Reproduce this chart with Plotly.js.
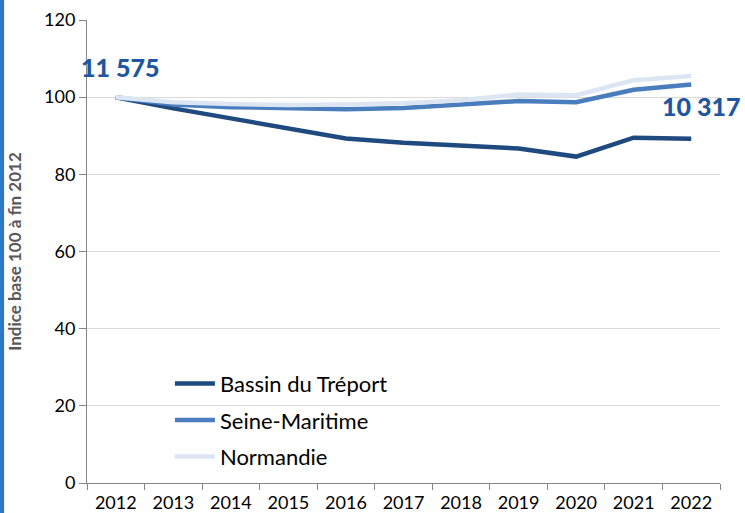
<!DOCTYPE html>
<html>
<head>
<meta charset="utf-8">
<script src="https://cdn.plot.ly/plotly-3.0.1.min.js"></script>
<style>
  html, body { margin: 0; padding: 0; background: #fff; }
  #chart { width: 745px; height: 513px; }
</style>
</head>
<body>
<div id="chart"></div>
<script>
const years = ['2012','2013','2014','2015','2016','2017','2018','2019','2020','2021','2022'];
const bassin = [100, 97.1, 94.5, 92.0, 89.3, 88.2, 87.4, 86.7, 84.6, 89.5, 89.2];
const seine = [100, 98.1, 97.4, 97.1, 96.9, 97.2, 98.0, 99.0, 98.7, 101.9, 103.3];
const normandie = [100, 98.7, 98.2, 98.0, 98.1, 98.4, 99.2, 100.7, 100.5, 104.4, 105.5];
const seriesNames = ['Bassin du Tréport', 'Seine-Maritime', 'Normandie'];
const labelTexts = ['11 575', '10 317'];
const labelIndex = [0, 10];
const labelValues = [107.8, 97.7];

const colors = ['#1f4a7f', '#4a7dbd', '#dce6f2'];
const font = 'Lato, "Open Sans", sans-serif';

const traces = [bassin, seine, normandie].map((vals, i) => ({
  x: years, y: vals, type: 'scatter', mode: 'lines', name: seriesNames[i],
  legendgroup: 'g' + i,
  line: { color: colors[i], width: 4.5 }
}));

const annotations = [];
for (let i = 0; i < labelTexts.length; i++) {
  annotations.push({
    x: labelIndex[i], y: labelValues[i], xref: 'x', yref: 'y',
    text: labelTexts[i], showarrow: false,
    xanchor: 'center', yanchor: 'middle', xshift: i === 0 ? 4 : 10,
    font: { size: 25, color: '#1f56a0', family: font, weight: 900 }
  });
}

const layout = {
  width: 745, height: 513,
  margin: { l: 87, r: 25, t: 20, b: 30 },
  paper_bgcolor: '#fff', plot_bgcolor: '#fff',
  font: { family: font, size: 18, color: '#000' },
  showlegend: true,
  legend: {
    x: 0.131, y: 0.26, xanchor: 'left', yanchor: 'top',
    font: { size: 22, color: '#000', family: font },
    bgcolor: 'rgba(0,0,0,0)', traceorder: 'grouped', tracegroupgap: 5,
    itemwidth: 40
  },
  xaxis: {
    type: 'category', range: [-0.5, 10.5],
    showgrid: false, showline: true, linecolor: '#868686', linewidth: 1,
    ticks: 'outside', tickson: 'boundaries', ticklen: 6, tickcolor: '#868686',
    tickfont: { size: 18, color: '#000' }, ticklabelstandoff: 3, zeroline: false
  },
  yaxis: {
    range: [0, 120], dtick: 20, tick0: 0,
    showgrid: true, gridcolor: '#d9d9d9', gridwidth: 1,
    showline: true, linecolor: '#868686', linewidth: 1,
    ticks: 'outside', ticklen: 7, tickcolor: '#868686',
    tickfont: { size: 18, color: '#000' }, zeroline: false,
    title: { text: 'Indice base 100 à fin 2012', font: { size: 17, color: '#595959', family: font, weight: 700 }, standoff: 18 }
  },
  annotations: annotations,
  shapes: [{
    type: 'rect', xref: 'paper', yref: 'paper', x0: -0.1374, x1: -0.131, y0: -0.1, y1: 1.1,
    fillcolor: '#2b78c8', line: { width: 0 }, layer: 'above'
  }]
};

Plotly.newPlot('chart', traces, layout, { displayModeBar: false, staticPlot: true });
</script>
</body>
</html>
